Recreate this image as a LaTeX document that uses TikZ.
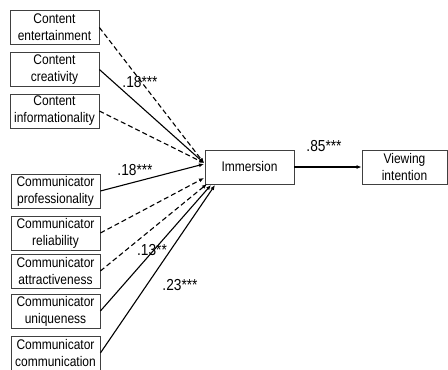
\documentclass[tikz,border=0pt]{standalone}
\usepackage{fontspec}
\setmainfont{Liberation Sans}[FakeStretch=0.86]
\usetikzlibrary{arrows.meta}
\begin{document}
\begin{tikzpicture}[x=1bp,y=-1bp,
  box/.style={draw=black!75,line width=0.8bp,minimum width=89bp,minimum height=34bp,inner sep=0pt,align=center,font=\fontsize{14}{17}\selectfont},
  path/.style={line width=1.1bp,-{Latex[length=5bp,width=4bp]}},
  dpath/.style={path,dash pattern=on 5bp off 3bp},
  coef/.style={font=\fontsize{16}{18}\selectfont,inner sep=0pt}]
\useasboundingbox (0,0) rectangle (448,369);
\node[box] (ce) at (54.5,27.5) {Content\\entertainment};
\node[box] (cc) at (54.5,69.5) {Content\\creativity};
\node[box] (ci) at (54.5,111) {Content\\informationality};
\node[box] (cp) at (55.5,191) {Communicator\\professionality};
\node[box] (cr) at (55.5,233) {Communicator\\reliability};
\node[box] (ca) at (55.5,271) {Communicator\\attractiveness};
\node[box] (cu) at (55.5,311) {Communicator\\uniqueness};
\node[box] (cm) at (55.5,353) {Communicator\\communication};
\node[box] (im) at (249.5,167) {Immersion};
\node[box,minimum width=85bp] (vi) at (404.5,167) {Viewing\\intention};
\coordinate (e1) at (204,163);
\coordinate (e2) at (204,164);
\coordinate (e3) at (204,178);
\coordinate (e4) at (207,184);
\coordinate (e5) at (211,185);
\coordinate (e6) at (215,185);
\draw[dpath] (ce.east) -- (e1);
\draw[path] (cc.east) -- (e1);
\draw[dpath] (ci.east) -- (e1);
\draw[path] (cp.east) -- (e2);
\draw[dpath] (cr.east) -- (e3);
\draw[dpath] (ca.east) -- (e4);
\draw[path] (cu.east) -- (e5);
\draw[path] (cm.east) -- (e6);
\draw[path] (im.east) -- (vi.west);
\node[coef] (l1) at (140,82) {.18***};
\node[coef] (l2) at (135,170) {.18***};
\node[coef] (l3) at (152,250) {.13**};
\node[coef] (l4) at (180,285) {.23***};
\node[coef] (l5) at (324,146) {.85***};
\end{tikzpicture}
\end{document}
